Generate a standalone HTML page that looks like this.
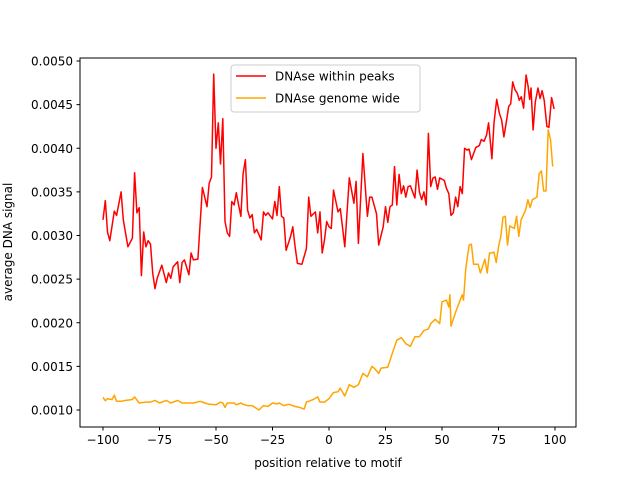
<!DOCTYPE html>
<html><head><meta charset="utf-8"><style>
body{margin:0;background:#fff;}
svg text{font-family:"DejaVu Sans","Liberation Sans",sans-serif;font-size:12px;fill:#000;}
</style></head><body>
<svg id="chart" width="640" height="480" viewBox="0 0 640 480" xmlns="http://www.w3.org/2000/svg">
<rect width="640" height="480" fill="#fff"/>
<g id="plot"></g>
<g id="axes"></g>
<g>
<rect x="231" y="65" width="189" height="47" rx="3" fill="#fff" fill-opacity="0.8" stroke="#ccc"/>
<line x1="236" y1="76" x2="266" y2="76" stroke="#ff0000" stroke-width="1.5"/>
<text x="275" y="80.5">DNAse within peaks</text>
<line x1="236" y1="98" x2="266" y2="98" stroke="#ffa500" stroke-width="1.5"/>
<text x="275" y="102.5">DNAse genome wide</text>
</g>
<text x="328" y="467" text-anchor="middle">position relative to motif</text>
<text transform="translate(12,242) rotate(-90)" text-anchor="middle">average DNA signal</text>
</svg>
<script>
const redX=[-100,-99,-98,-97,-95,-94,-92,-91,-89,-87,-86,-85,-84,-83,-82,-81,-80,-79,-78,-77,-76,-74,-72,-71,-70,-69,-67,-66,-65,-64,-62,-61,-60,-58,-56,-54,-53,-52,-51,-50,-49,-48,-47,-46,-45,-44,-43,-42,-41,-40,-39,-38,-37,-36,-35,-34,-33,-32,-30,-29,-28,-27,-25,-24,-23,-22,-21,-20,-19,-17,-16,-15,-14,-12,-10,-9,-8,-6,-5,-4,-3,-2,-1,0,1,2,4,5,7,9,11,12,13,15,17,18,19,21,22,24,25,26,27,28,29,30,31,32,33,34,35,36,37,38,39,40,41,42,43,44,45,46,47,48,49,51,52,53,54,55,56,57,58,59,60,61,62,63,64,65,66.5,67.4,68.6,69.7,70.6,72.1,73,74.2,75.4,76.4,77.4,78.6,79.5,80.4,81.3,82.3,83.3,84.2,85.1,86.1,87.2,88.1,88.8,89.4,90.3,91.3,92.5,93.4,94.3,95.2,96.4,97.3,98.5,99.6];
const redY=[3.18,3.40,3.04,2.94,3.28,3.23,3.50,3.18,2.87,2.97,3.72,3.26,3.32,2.54,3.04,2.87,2.94,2.90,2.57,2.39,2.51,2.66,2.46,2.57,2.51,2.64,2.70,2.46,2.69,2.72,2.55,2.80,2.72,2.73,3.55,3.33,3.60,3.67,4.85,4.00,4.29,3.82,4.34,3.16,3.03,2.99,3.39,3.35,3.49,3.35,3.22,3.71,3.87,3.29,3.20,3.24,3.03,3.07,2.95,3.27,3.23,3.26,3.19,3.39,3.23,3.56,3.22,3.20,2.83,2.99,3.10,2.87,2.68,2.67,2.85,3.44,3.22,3.27,3.03,3.27,2.80,2.95,3.16,3.10,3.08,3.52,3.27,3.31,2.87,3.66,3.37,3.62,2.91,3.94,3.22,3.44,3.44,3.25,2.89,3.10,3.33,3.15,3.33,3.35,3.79,3.35,3.70,3.48,3.57,3.44,3.56,3.57,3.50,3.43,3.75,3.50,3.41,3.50,3.35,4.17,3.56,3.66,3.67,3.53,3.66,3.63,3.54,3.48,3.23,3.26,3.44,3.33,3.56,3.48,4.00,3.98,3.99,3.87,3.94,4.01,4.03,4.10,4.08,4.15,4.29,3.88,4.29,4.56,4.40,4.32,4.13,4.32,4.48,4.51,4.76,4.67,4.63,4.55,4.59,4.46,4.84,4.71,4.56,4.69,4.21,4.53,4.69,4.57,4.66,4.55,4.25,4.24,4.58,4.45];
const orX=[-100,-99,-98,-96,-95,-94,-92,-90,-87,-86,-84,-81,-79,-77,-75,-72,-70,-67,-65,-63,-60,-57,-55,-53,-50,-48,-47,-46,-45,-42,-41,-39,-38,-36,-34,-31,-29,-27,-25,-23,-22,-20,-18,-17,-15,-13,-11,-10,-8,-7,-5,-4,-2,0,2,4,5,7,9,11,13,15,17,19,20,22,23,26,28,30,32,34,36,38,40,42,44,45,47,49,50,52,53,53.5,54,56,57,59,59.5,60.5,62,63,64,66,67,69,70,71,72,73,74,75,76,77,78,79,80,82,83,84,85,87,88,89,90,92,93,94,95,96,97,98,99];
const orY=[1.146,1.107,1.13,1.12,1.17,1.10,1.10,1.11,1.12,1.15,1.08,1.09,1.09,1.11,1.08,1.11,1.08,1.11,1.08,1.08,1.08,1.10,1.08,1.065,1.06,1.09,1.08,1.03,1.08,1.08,1.06,1.08,1.065,1.05,1.05,1.0,1.05,1.04,1.08,1.07,1.08,1.05,1.065,1.06,1.04,1.03,1.01,1.09,1.11,1.12,1.15,1.09,1.09,1.13,1.20,1.21,1.25,1.16,1.29,1.26,1.29,1.42,1.38,1.50,1.48,1.42,1.48,1.49,1.65,1.80,1.83,1.76,1.73,1.84,1.84,1.91,1.93,1.99,2.04,1.99,2.24,2.26,2.18,2.32,1.96,2.12,2.19,2.32,2.26,2.61,2.89,2.90,2.67,2.67,2.57,2.73,2.57,2.80,2.80,2.81,2.69,2.87,2.99,3.21,3.22,2.89,3.11,3.08,3.22,2.99,3.18,3.29,3.41,3.32,3.41,3.44,3.71,3.74,3.51,3.51,4.21,4.10,3.79];
const xTicks=[-100,-75,-50,-25,0,25,50,75,100];
const yTicks=[1.0,1.5,2.0,2.5,3.0,3.5,4.0,4.5,5.0];
const yTickLabels=["0.0010","0.0015","0.0020","0.0025","0.0030","0.0035","0.0040","0.0045","0.0050"];
const NS="http://www.w3.org/2000/svg";
function sx(u){return 103+(u+100)*2.26;}
function sy(v){return 410-(v-1)*87.25;}
const plot=document.getElementById('plot'),axes=document.getElementById('axes');
function mk(tag,attrs,parent){const e=document.createElementNS(NS,tag);for(const k in attrs)e.setAttribute(k,attrs[k]);parent.appendChild(e);return e;}
function line(xs,ys,color,name){
  const n=Math.min(xs.length,ys.length);
  let d='';
  for(let i=0;i<n;i++){d+=(i?'L':'M')+sx(xs[i]).toFixed(1)+','+sy(ys[i]).toFixed(1)+' ';}
  const p=mk('path',{d:d,fill:'none',stroke:color,'stroke-width':1.5,'stroke-linejoin':'round'},plot);
  
  
}
line(redX,redY,'#ff0000','peaks-line');
line(orX,orY,'#ffa500','genome-wide-line');
const fr=mk('rect',{x:80,y:58,width:496,height:369,fill:'none',stroke:'#000','stroke-width':1},axes);


xTicks.forEach(t=>{
  const x=sx(t);
  const tk=mk('line',{x1:x,y1:427,x2:x,y2:430.5,stroke:'#000'},axes);
  
  
  const tx=mk('text',{x:x,y:444,'text-anchor':'middle'},axes);
  tx.textContent=(t<0?'\u2212'+(-t):String(t));
  
  
});
yTicks.forEach((t,i)=>{
  const y=sy(t);
  const tk=mk('line',{x1:76.5,y1:y,x2:80,y2:y,stroke:'#000'},axes);
  
  
  const tx=mk('text',{x:73,y:y+4.5,'text-anchor':'end'},axes);
  tx.textContent=yTickLabels[i];
  
  
});
</script>
</body></html>
